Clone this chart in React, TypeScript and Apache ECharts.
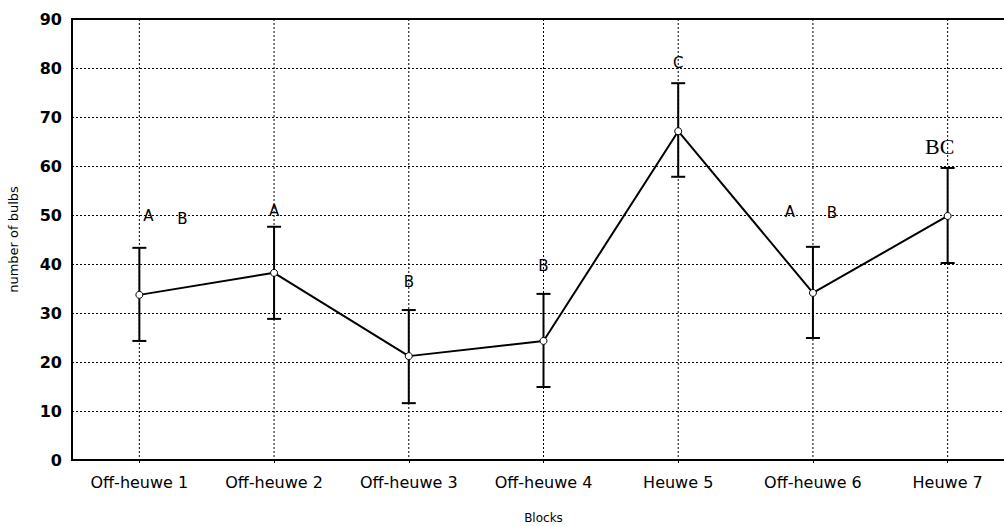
import React, { useEffect, useRef } from "react";
import * as echarts from "echarts";

const categories = ["Off-heuwe 1", "Off-heuwe 2", "Off-heuwe 3", "Off-heuwe 4", "Heuwe 5", "Off-heuwe 6", "Heuwe 7"];
const means = [33.7, 38.2, 21.2, 24.3, 67.1, 34.1, 49.8];
const lower = [24.3, 28.8, 11.6, 14.9, 57.8, 24.9, 40.2];
const upper = [43.3, 47.6, 30.6, 33.9, 76.9, 43.5, 59.6];
const yTicks = [0, 10, 20, 30, 40, 50, 60, 70, 80, 90];
// letter annotations: [categoryIndex, y value, text, x offset px, serif]
const letters: [number, number, string, number, boolean][] = [
  [0, 49.7, "A", 9, false],
  [0, 49.2, "B", 43, false],
  [1, 50.9, "A", 0, false],
  [2, 36.3, "B", 0, false],
  [3, 39.6, "B", 0, false],
  [4, 81.0, "C", 0, false],
  [5, 50.7, "A", -23, false],
  [5, 50.5, "B", 19, false],
  [6, 64.0, "BC", -8, true],
];

export default function App() {
  const ref = useRef<HTMLDivElement>(null);
  useEffect(() => {
    if (!ref.current) return;
    const chart = echarts.init(ref.current, null, { renderer: "svg" });
    const font = "DejaVu Sans";
    chart.setOption({
      animation: false,
      backgroundColor: "#fff",
      textStyle: { fontFamily: font },
      grid: {
        left: 72,
        top: 19,
        width: 943,
        bottom: 66,
        containLabel: false,
        outerBoundsMode: "none",
        show: true,
        borderColor: "#000",
        borderWidth: 2,
      },
      xAxis: {
        type: "category",
        data: categories,
        name: "Blocks",
        nameLocation: "middle",
        nameGap: 52,
        nameTextStyle: { fontFamily: font, fontSize: 12, color: "#000" },
        axisLine: { lineStyle: { color: "#000", width: 2 } },
        axisTick: { show: true, alignWithLabel: true, length: 3, lineStyle: { color: "#000" } },
        axisLabel: { fontFamily: font, fontSize: 16, color: "#000", margin: 14, interval: 0 },
        splitLine: { show: false },
      },
      yAxis: {
        type: "value",
        min: 0,
        max: 90,
        interval: 10,
        name: "number of bulbs",
        nameLocation: "middle",
        nameGap: 52,
        nameTextStyle: { fontFamily: font, fontSize: 13, color: "#000" },
        axisLine: { show: true, lineStyle: { color: "#000", width: 2 } },
        axisTick: { show: false },
        axisLabel: {
          fontFamily: font,
          fontSize: 16,
          fontWeight: "bold",
          color: "#000",
          margin: 10,
          formatter: (v: number) => (yTicks.includes(v) ? String(v) : ""),
        },
        splitLine: { show: true, lineStyle: { color: "#000", width: 1, type: [2, 2] } },
      },
      series: [
        {
          type: "custom",
          name: "vgrid",
          silent: true,
          data: categories.map((_, i) => [i]),
          renderItem: (params: any, api: any) => {
            const x = api.coord([api.value(0), 0])[0];
            const cs = params.coordSys;
            return {
              type: "line",
              shape: { x1: x, y1: cs.y, x2: x, y2: cs.y + cs.height },
              style: { stroke: "#000", lineWidth: 1, lineDash: [2, 2] },
            };
          },
          z: 1,
        },
        {
          type: "custom",
          name: "errors",
          data: categories.map((_, i) => [i, lower[i], upper[i]]),
          renderItem: (params: any, api: any) => {
            const lo = api.coord([api.value(0), api.value(1)]);
            const hi = api.coord([api.value(0), api.value(2)]);
            const hw = 7;
            const st = { stroke: "#000", lineWidth: 2 };
            return {
              type: "group",
              children: [
                { type: "line", shape: { x1: lo[0], y1: lo[1], x2: hi[0], y2: hi[1] }, style: st },
                { type: "line", shape: { x1: lo[0] - hw, y1: lo[1], x2: lo[0] + hw, y2: lo[1] }, style: st },
                { type: "line", shape: { x1: hi[0] - hw, y1: hi[1], x2: hi[0] + hw, y2: hi[1] }, style: st },
              ],
            };
          },
          z: 3,
        },
        {
          type: "line",
          name: "mean",
          data: means,
          symbol: "circle",
          symbolSize: 7,
          showAllSymbol: true,
          lineStyle: { color: "#000", width: 2 },
          itemStyle: { color: "#fff", borderColor: "#000", borderWidth: 1 },
          z: 4,
        },
        {
          type: "custom",
          name: "letters",
          data: letters.map((l) => [l[0], l[1], l[3], l[4] ? 1 : 0]),
          renderItem: (params: any, api: any) => {
            const idx = params.dataIndex;
            const p = api.coord([api.value(0), api.value(1)]);
            const serif = api.value(3) === 1;
            return {
              type: "text",
              x: p[0] + api.value(2),
              y: p[1],
              style: {
                text: letters[idx][2],
                fontFamily: serif ? "Liberation Serif" : font,
                fontSize: serif ? 22 : 15,
                fill: "#000",
                align: "center",
                verticalAlign: "middle",
              },
            };
          },
          z: 5,
        },
      ],
    });
    return () => chart.dispose();
  }, []);
  return <div ref={ref} style={{ position: "absolute", left: 0, top: 0, width: 1004, height: 526 }} />;
}
